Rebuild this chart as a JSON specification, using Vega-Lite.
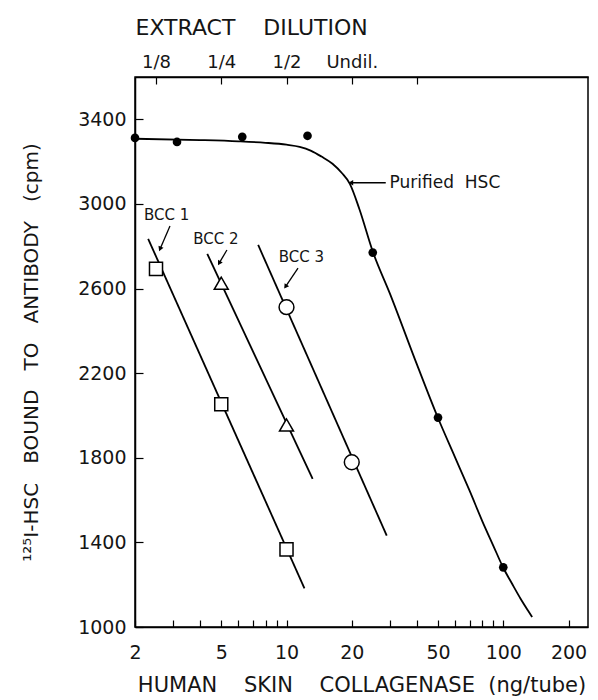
{
  "$schema": "https://vega.github.io/schema/vega-lite/v6.json",
  "width": 453,
  "height": 550,
  "autosize": "none",
  "padding": {"left": 135, "top": 77, "right": 10, "bottom": 73},
  "background": "white",
  "config": {
    "view": {"stroke": "black", "strokeWidth": 1.5},
    "font": "DejaVu Sans",
    "axis": {
      "grid": false,
      "domainColor": "black",
      "domainWidth": 1.5,
      "tickColor": "black",
      "tickWidth": 1.2,
      "labelColor": "#151515",
      "titleColor": "#151515",
      "labelFont": "DejaVu Sans",
      "titleFont": "DejaVu Sans",
      "titleFontWeight": "normal",
      "labelFlush": false,
      "labelOverlap": false
    }
  },
  "datasets": {
    "curve": [
      {"x": 2, "y": 3308}, {"x": 4, "y": 3302}, {"x": 6, "y": 3296}, {"x": 8, "y": 3289},
      {"x": 10, "y": 3280}, {"x": 11.5, "y": 3270}, {"x": 13, "y": 3251}, {"x": 14.5, "y": 3224},
      {"x": 16.3, "y": 3190}, {"x": 18, "y": 3146}, {"x": 19.6, "y": 3095}, {"x": 21.7, "y": 2975},
      {"x": 25, "y": 2775}, {"x": 30, "y": 2576}, {"x": 40, "y": 2240}, {"x": 50, "y": 1988},
      {"x": 60, "y": 1801}, {"x": 70, "y": 1643}, {"x": 80, "y": 1501}, {"x": 90, "y": 1384},
      {"x": 100, "y": 1280}, {"x": 110, "y": 1203}, {"x": 120, "y": 1135}, {"x": 130, "y": 1078},
      {"x": 136, "y": 1047}
    ],
    "purified": [
      {"x": 2, "y": 3312}, {"x": 3.125, "y": 3293}, {"x": 6.25, "y": 3317}, {"x": 12.5, "y": 3322},
      {"x": 25, "y": 2770}, {"x": 50, "y": 1990}, {"x": 100, "y": 1282}
    ],
    "bcclines": [
      {"series": "BCC 1", "x": 2.3, "y": 2835}, {"series": "BCC 1", "x": 12.1, "y": 1183},
      {"series": "BCC 2", "x": 4.31, "y": 2764}, {"series": "BCC 2", "x": 13.2, "y": 1700},
      {"series": "BCC 3", "x": 7.4, "y": 2806}, {"series": "BCC 3", "x": 29, "y": 1432}
    ],
    "bccpoints": [
      {"series": "BCC 1", "x": 2.5, "y": 2693}, {"series": "BCC 1", "x": 5, "y": 2053}, {"series": "BCC 1", "x": 10, "y": 1367},
      {"series": "BCC 2", "x": 5, "y": 2625}, {"series": "BCC 2", "x": 10, "y": 1955},
      {"series": "BCC 3", "x": 10, "y": 2512}, {"series": "BCC 3", "x": 20, "y": 1779}
    ],
    "labels": [
      {"label": "BCC 1", "x": 2.8, "y": 2948},
      {"label": "BCC 2", "x": 4.72, "y": 2835},
      {"label": "BCC 3", "x": 11.7, "y": 2751}
    ],
    "arrows": [
      {"id": "b1", "x": 2.9, "y": 2896, "x2": 2.61, "y2": 2787},
      {"id": "b2", "x": 5.31, "y": 2782, "x2": 4.89, "y2": 2720},
      {"id": "b3", "x": 11.3, "y": 2696, "x2": 9.9, "y2": 2609},
      {"id": "p", "x": 28.7, "y": 3100, "x2": 19.8, "y2": 3100}
    ],
    "purlabel": [{"label": "Purified\u00a0\u00a0HSC", "x": 29.9, "y": 3100}]
  },
  "resolve": {"axis": {"x": "independent", "y": "independent"}},
  "layer": [
    {
      "data": {"name": "curve"},
      "mark": {"type": "line", "color": "black", "strokeWidth": 1.8, "interpolate": "monotone"},
      "encoding": {
        "x": {
          "field": "x", "type": "quantitative",
          "scale": {"type": "log", "domain": [2, 246], "nice": false},
          "axis": {
            "orient": "bottom",
            "values": [2, 3, 4, 5, 6, 7, 8, 9, 10, 20, 30, 40, 50, 60, 70, 80, 90, 100, 200],
            "labelExpr": "indexof([2, 5, 10, 20, 50, 100, 200], datum.value) >= 0 ? datum.value + '' : ''",
            "tickSize": -7,
            "labelPadding": 23,
            "labelFontSize": 19,
            "title": "HUMAN\u00a0\u00a0\u00a0\u00a0SKIN\u00a0\u00a0\u00a0\u00a0COLLAGENASE\u00a0\u00a0(ng/tube)",
            "titleFontSize": 21,
            "titlePadding": 12
          }
        },
        "y": {
          "field": "y", "type": "quantitative",
          "scale": {"domain": [1000, 3600], "nice": false, "zero": false},
          "axis": {
            "orient": "left",
            "values": [1000, 1400, 1800, 2200, 2600, 3000, 3400],
            "format": "d",
            "tickSize": -8,
            "labelPadding": 17,
            "labelFontSize": 19,
            "title": "\u00b9\u00b2\u2075I-HSC\u00a0\u00a0\u00a0BOUND\u00a0\u00a0\u00a0TO\u00a0\u00a0\u00a0ANTIBODY\u00a0\u00a0\u00a0(cpm)",
            "titleFontSize": 20,
            "titlePadding": 36
          }
        }
      }
    },
    {
      "data": {"name": "purified"},
      "mark": {"type": "point", "shape": "circle", "filled": true, "color": "black", "size": 75, "opacity": 1},
      "encoding": {
        "x": {
          "field": "x", "type": "quantitative",
          "scale": {"type": "log", "domain": [2, 246], "nice": false},
          "axis": {
            "orient": "top",
            "values": [2.5, 5, 10, 20, 40],
            "labelExpr": "datum.value < 3 ? '1/8' : datum.value < 7 ? '1/4' : datum.value < 15 ? '1/2' : datum.value < 30 ? 'Undil.' : ''",
            "tickSize": -7,
            "labelPadding": 13,
            "labelFontSize": 18,
            "title": "EXTRACT\u00a0\u00a0\u00a0\u00a0DILUTION",
            "titleAnchor": "start",
            "titleFontSize": 22,
            "titlePadding": 14
          }
        },
        "y": {"field": "y", "type": "quantitative", "scale": {"domain": [1000, 3600], "nice": false, "zero": false}, "axis": null}
      }
    },
    {
      "data": {"name": "bcclines"},
      "mark": {"type": "line", "color": "black", "strokeWidth": 1.8},
      "encoding": {
        "x": {"field": "x", "type": "quantitative", "scale": {"type": "log", "domain": [2, 246], "nice": false}, "axis": null},
        "y": {"field": "y", "type": "quantitative", "scale": {"domain": [1000, 3600], "nice": false, "zero": false}, "axis": null},
        "detail": {"field": "series"}
      }
    },
    {
      "data": {"name": "bccpoints"},
      "mark": {"type": "point", "filled": true, "fill": "white", "stroke": "black", "strokeWidth": 1.5, "opacity": 1},
      "encoding": {
        "x": {"field": "x", "type": "quantitative", "scale": {"type": "log", "domain": [2, 246], "nice": false}, "axis": null},
        "y": {"field": "y", "type": "quantitative", "scale": {"domain": [1000, 3600], "nice": false, "zero": false}, "axis": null},
        "shape": {"field": "series", "type": "nominal", "scale": {"domain": ["BCC 1", "BCC 2", "BCC 3"], "range": ["square", "triangle-up", "circle"]}, "legend": null},
        "size": {"field": "series", "type": "nominal", "scale": {"domain": ["BCC 1", "BCC 2", "BCC 3"], "range": [170, 220, 140]}, "legend": null}
      }
    },
    {
      "data": {"name": "labels"},
      "mark": {"type": "text", "fontSize": 15, "color": "#151515", "align": "center", "baseline": "middle"},
      "encoding": {
        "x": {"field": "x", "type": "quantitative", "scale": {"type": "log", "domain": [2, 246], "nice": false}, "axis": null},
        "y": {"field": "y", "type": "quantitative", "scale": {"domain": [1000, 3600], "nice": false, "zero": false}, "axis": null},
        "text": {"field": "label"}
      }
    },
    {
      "data": {"name": "purlabel"},
      "mark": {"type": "text", "fontSize": 17, "color": "#151515", "align": "left", "baseline": "middle"},
      "encoding": {
        "x": {"field": "x", "type": "quantitative", "scale": {"type": "log", "domain": [2, 246], "nice": false}, "axis": null},
        "y": {"field": "y", "type": "quantitative", "scale": {"domain": [1000, 3600], "nice": false, "zero": false}, "axis": null},
        "text": {"field": "label"}
      }
    },
    {
      "data": {"name": "arrows"},
      "mark": {"type": "rule", "color": "black", "strokeWidth": 1.3},
      "encoding": {
        "x": {"field": "x", "type": "quantitative", "scale": {"type": "log", "domain": [2, 246], "nice": false}, "axis": null},
        "y": {"field": "y", "type": "quantitative", "scale": {"domain": [1000, 3600], "nice": false, "zero": false}, "axis": null},
        "x2": {"field": "x2"},
        "y2": {"field": "y2"}
      }
    },
    {
      "data": {"name": "arrows"},
      "transform": [{"filter": "datum.id == 'b1'"}],
      "mark": {"type": "point", "shape": "triangle-up", "filled": true, "color": "black", "size": 30, "angle": 203, "opacity": 1},
      "encoding": {
        "x": {"field": "x2", "type": "quantitative", "scale": {"type": "log", "domain": [2, 246], "nice": false}, "axis": null},
        "y": {"field": "y2", "type": "quantitative", "scale": {"domain": [1000, 3600], "nice": false, "zero": false}, "axis": null}
      }
    },
    {
      "data": {"name": "arrows"},
      "transform": [{"filter": "datum.id == 'b2'"}],
      "mark": {"type": "point", "shape": "triangle-up", "filled": true, "color": "black", "size": 30, "angle": 210, "opacity": 1},
      "encoding": {
        "x": {"field": "x2", "type": "quantitative", "scale": {"type": "log", "domain": [2, 246], "nice": false}, "axis": null},
        "y": {"field": "y2", "type": "quantitative", "scale": {"domain": [1000, 3600], "nice": false, "zero": false}, "axis": null}
      }
    },
    {
      "data": {"name": "arrows"},
      "transform": [{"filter": "datum.id == 'b3'"}],
      "mark": {"type": "point", "shape": "triangle-up", "filled": true, "color": "black", "size": 30, "angle": 214, "opacity": 1},
      "encoding": {
        "x": {"field": "x2", "type": "quantitative", "scale": {"type": "log", "domain": [2, 246], "nice": false}, "axis": null},
        "y": {"field": "y2", "type": "quantitative", "scale": {"domain": [1000, 3600], "nice": false, "zero": false}, "axis": null}
      }
    },
    {
      "data": {"name": "arrows"},
      "transform": [{"filter": "datum.id == 'p'"}],
      "mark": {"type": "point", "shape": "triangle-up", "filled": true, "color": "black", "size": 30, "angle": 270, "opacity": 1},
      "encoding": {
        "x": {"field": "x2", "type": "quantitative", "scale": {"type": "log", "domain": [2, 246], "nice": false}, "axis": null},
        "y": {"field": "y2", "type": "quantitative", "scale": {"domain": [1000, 3600], "nice": false, "zero": false}, "axis": null}
      }
    }
  ]
}
